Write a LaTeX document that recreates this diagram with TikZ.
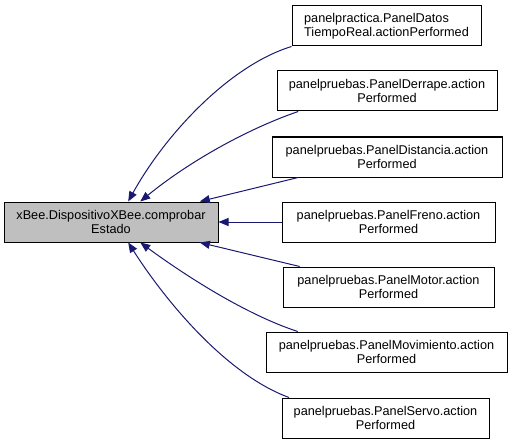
\documentclass[tikz,border=0pt]{standalone}
\usepackage{fontspec}
\setmainfont{Liberation Sans}
\usepackage{tikz}
\usetikzlibrary{arrows.meta}
\definecolor{callblue}{RGB}{25,25,112}
\definecolor{rootgray}{RGB}{191,191,191}

\begin{document}
\begin{tikzpicture}[
  x=1pt, y=-1pt,
  font=\fontsize{12.7}{14}\selectfont,
  box/.style={draw=black, line width=1pt, fill=white, align=center,
    inner sep=0pt, minimum height=40pt},
  rootbox/.style={box, fill=rootgray},
  arr/.style={-{Triangle[length=10pt, width=8pt]}, line width=1pt, callblue}
]
  \useasboundingbox (0,0) rectangle (512,444);
  \node[rootbox, minimum width=214pt] (comprobar) at (111,222) {xBee.DispositivoXBee.comprobar\\ Estado};
  \node[box, align=left, minimum width=189pt] (datos) at (386.5,26) {panelpractica.PanelDatos\\ TiempoReal.actionPerformed};
  \node[box, minimum width=220pt] (derrape) at (387,91) {panelpruebas.PanelDerrape.action\\ Performed};
  \node[box, minimum width=230pt] (distancia) at (387,157) {panelpruebas.PanelDistancia.action\\ Performed};
  \node[box, minimum width=213pt] (freno) at (388.5,222) {panelpruebas.PanelFreno.action\\ Performed};
  \node[box, minimum width=211pt] (motor) at (388.5,287) {panelpruebas.PanelMotor.action\\ Performed};
  \node[box, minimum width=241pt] (movimiento) at (386.5,352) {panelpruebas.PanelMovimiento.action\\ Performed};
  \node[box, minimum width=207pt] (servo) at (385.5,418) {panelpruebas.PanelServo.action\\ Performed};
  \draw[arr] (datos.south west) .. controls +(-62,19) and +(37,-67) .. (comprobar.50);
  \draw[arr] (derrape.193) .. controls +(-55,19) and +(45,-37) .. (comprobar.35);
  \draw[arr] (distancia.193) -- (comprobar.13);
  \draw[arr] (freno.west) -- (comprobar.east);
  \draw[arr] (motor.167) -- (comprobar.-13);
  \draw[arr] (movimiento.167) .. controls +(-52,-17) and +(45,33) .. (comprobar.-35);
  \draw[arr] (servo.168) .. controls +(-63,-23) and +(37,58) .. (comprobar.-50);
\end{tikzpicture}
\end{document}
